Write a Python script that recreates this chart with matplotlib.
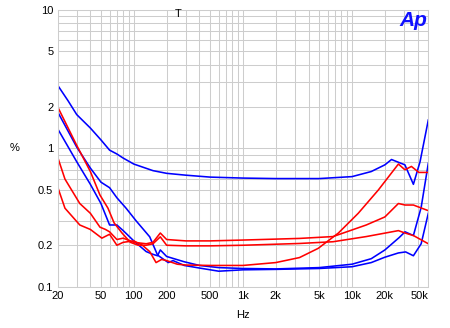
import matplotlib
matplotlib.use("Agg")
import matplotlib.pyplot as plt
from matplotlib.ticker import FixedLocator, NullFormatter, NullLocator

# frequency (Hz) / distortion (%) traces
b1_f = [20, 25, 30, 40, 50, 60, 70, 80, 100, 150, 200, 300, 500, 1000, 2000, 5000,
        10000, 15000, 20000, 23000, 30500, 36500, 42000, 50000]
b1_v = [2.86, 2.2, 1.75, 1.4, 1.15, 0.97, 0.91, 0.85, 0.77, 0.69, 0.66, 0.64, 0.62, 0.61,
        0.605, 0.605, 0.625, 0.68, 0.76, 0.83, 0.76, 0.55, 0.8, 1.6]

b2_f = [20, 30, 40, 50, 60, 70, 85, 105, 140, 165, 207, 229, 290, 400, 600, 1000, 2000,
        5000, 10000, 15000, 20000, 26600, 31000, 36500, 43000, 50000]
b2_v = [1.84, 1.02, 0.72, 0.57, 0.52, 0.44, 0.37, 0.30, 0.23, 0.17, 0.15, 0.155, 0.143,
        0.137, 0.13, 0.133, 0.134, 0.136, 0.14, 0.15, 0.164, 0.176, 0.179, 0.168, 0.205, 0.34]

b3_f = [20, 30, 40, 50, 60, 70, 80, 100, 130, 150, 165, 175, 200, 290, 400, 600, 1000,
        2000, 5000, 10000, 15000, 20000, 27000, 30600, 36500, 43000, 50000]
b3_v = [1.39, 0.80, 0.55, 0.40, 0.28, 0.28, 0.255, 0.215, 0.18, 0.172, 0.168, 0.185, 0.166,
        0.152, 0.143, 0.138, 0.136, 0.135, 0.138, 0.146, 0.16, 0.185, 0.227, 0.25, 0.235,
        0.375, 0.78]

r1_f = [20, 30, 40, 49, 58, 66, 78, 93, 110, 130, 150, 175, 200, 300, 500, 1000, 3300,
        6700, 13500, 26600, 30600, 36500, 50000]
r1_v = [2.0, 1.05, 0.68, 0.46, 0.37, 0.29, 0.245, 0.21, 0.2, 0.2, 0.205, 0.23, 0.2, 0.198,
        0.198, 0.2, 0.206, 0.212, 0.231, 0.255, 0.245, 0.235, 0.205]

r2_f = [20, 23.4, 32, 40, 49, 55, 60, 70, 80, 100, 130, 150, 175, 200, 300, 500, 1000,
        3300, 6700, 13500, 20000, 26600, 30600, 36500, 50000]
r2_v = [0.87, 0.6, 0.40, 0.34, 0.27, 0.26, 0.25, 0.22, 0.225, 0.21, 0.205, 0.21, 0.245, 0.22,
        0.215, 0.215, 0.218, 0.224, 0.231, 0.28, 0.32, 0.40, 0.39, 0.39, 0.355]

r3_f = [20, 23.4, 32, 40, 51, 60, 70, 80, 100, 120, 140, 160, 180, 200, 250, 300, 500, 1000,
        2000, 3300, 4900, 7500, 11400, 17400, 26600, 30500, 35000, 41000, 50000]
r3_v = [0.53, 0.37, 0.28, 0.26, 0.225, 0.24, 0.2, 0.21, 0.215, 0.2, 0.18, 0.15, 0.158, 0.155,
        0.146, 0.144, 0.143, 0.143, 0.15, 0.163, 0.19, 0.245, 0.34, 0.5, 0.77, 0.70, 0.74,
        0.67, 0.67]

x_ticks = [20, 50, 100, 200, 500, 1000, 2000, 5000, 10000, 20000, 50000]
x_labels = ["20", "50", "100", "200", "500", "1k", "2k", "5k", "10k", "20k", "50k"]
y_ticks = [0.1, 0.2, 0.5, 1, 2, 5, 10]
y_labels = ["0.1", "0.2", "0.5", "1", "2", "5", "10"]

plt.rcParams['font.family'] = ['Liberation Sans', 'DejaVu Sans']

fig = plt.figure(figsize=(4.5, 3.28), dpi=100)
ax = fig.add_axes([0.1278, 0.125, 0.824, 0.8457])
ax.set_xscale('log')
ax.set_yscale('log')
ax.set_xlim(20, 50000)
ax.set_ylim(0.1, 10)

# grid at every 1..9 step of each decade
xgrid = [m * 10**e for e in range(1, 5) for m in range(1, 10)]
xgrid = [g for g in xgrid if 20 <= g <= 50000]
ygrid = [m * 10**e for e in range(-1, 1) for m in range(1, 10)] + [10]
for g in xgrid:
    ax.axvline(g, color='#cdcdcd', lw=0.75, zorder=0)
for g in ygrid:
    ax.axhline(g, color='#cdcdcd', lw=0.75, zorder=0)

for f, v in [(b1_f, b1_v), (b2_f, b2_v), (b3_f, b3_v)]:
    ax.plot(f, v, color='#0000ff', lw=1.15)
for f, v in [(r1_f, r1_v), (r2_f, r2_v), (r3_f, r3_v)]:
    ax.plot(f, v, color='#ff0000', lw=1.15)

ax.xaxis.set_major_locator(FixedLocator(x_ticks))
ax.xaxis.set_minor_locator(NullLocator())
ax.xaxis.set_minor_formatter(NullFormatter())
ax.set_xticklabels(x_labels)
ax.yaxis.set_major_locator(FixedLocator(y_ticks))
ax.yaxis.set_minor_locator(NullLocator())
ax.yaxis.set_minor_formatter(NullFormatter())
ax.set_yticklabels(y_labels)
ax.tick_params(length=0, labelsize=8, pad=3)
ax.get_xticklabels()[-1].set_ha('right')

for s in ax.spines.values():
    s.set_color('#cdcdcd')
    s.set_linewidth(0.75)

ax.set_xlabel('Hz', fontsize=8, labelpad=6)
fig.text(15 / 450, 1 - 148 / 328, '%', fontsize=8, ha='center', va='center')
fig.text(178 / 450, 1 - 14 / 328, 'T', fontsize=8, ha='center', va='center')
fig.text(413 / 450, 1 - 21 / 328, 'Ap', fontsize=15, ha='center', va='center',
         color='#1010ff', fontweight='bold', fontstyle='italic')

fig.savefig('out.png', dpi=100)
